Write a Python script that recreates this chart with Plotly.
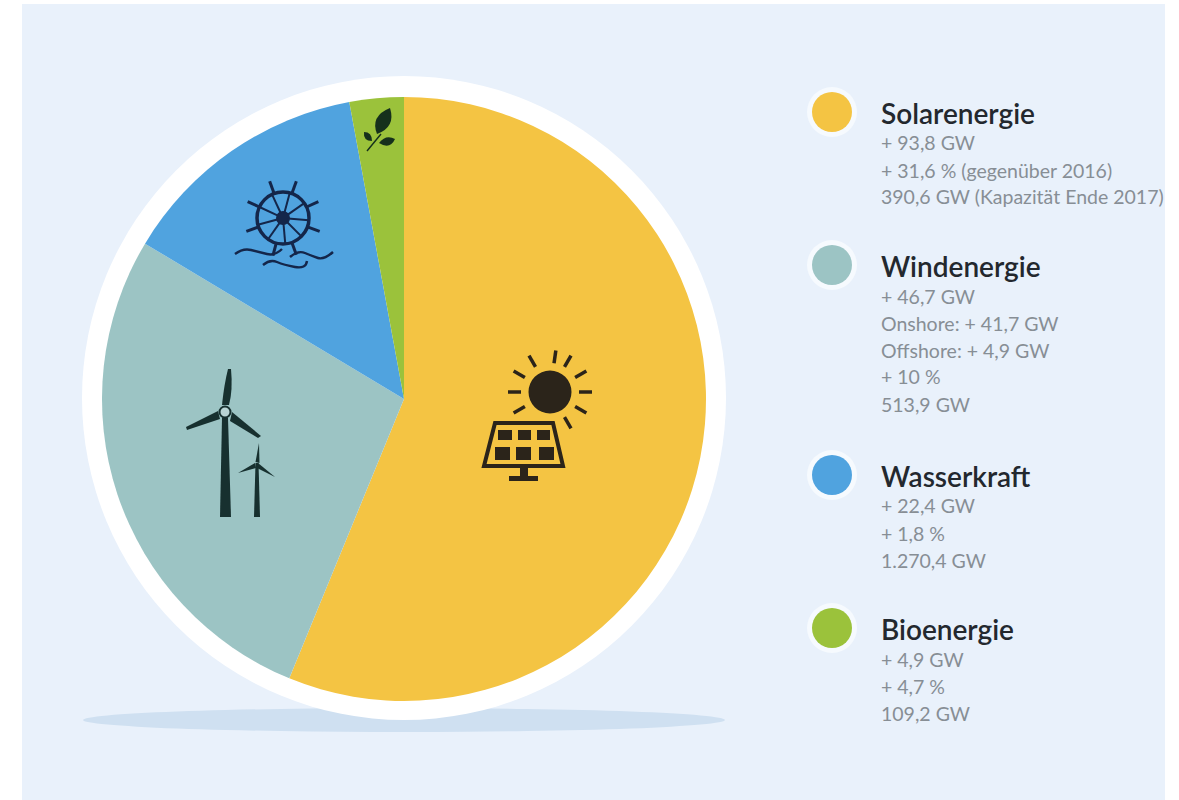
import math
import plotly.graph_objects as go

W, H = 1179, 800

# ---- data ----
categories = ["Solarenergie", "Windenergie", "Wasserkraft", "Bioenergie"]
# They sit close to, but not exactly on, the shares of the printed GW figures below.
slice_share_pct = [56.2, 27.4, 13.5, 2.9]
colors = ["#F4C443", "#9CC4C4", "#50A3DF", "#9BC23B"]
solar_lines = ["+ 93,8 GW", "+ 31,6 % (gegenüber 2016)", "390,6 GW (Kapazität Ende 2017)"]
wind_lines = ["+ 46,7 GW", "Onshore: + 41,7 GW", "Offshore: + 4,9 GW", "+ 10 %", "513,9 GW"]
water_lines = ["+ 22,4 GW", "+ 1,8 %", "1.270,4 GW"]
bio_lines = ["+ 4,9 GW", "+ 4,7 %", "109,2 GW"]
detail_lines = [solar_lines, wind_lines, water_lines, bio_lines]

# ---- layout constants (pixels) ----
PANEL = "#E9F1FB"
DARK = "#2B241A"
NAVY = "#14264A"
LEAF = "#16301C"
TURB = "#17302F"
TITLE_Y = [113, 266, 476, 629]
LEG_Y = [112, 265, 475, 628]
LINE_STEP = 27
FIRST_OFFSET = 30


def X(v):
    return v / W


def Y(v):
    return 1 - v / H


shapes = []


def rect(x0, y0, x1, y1, fill, layer="above"):
    shapes.append(dict(type="rect", xref="paper", yref="paper", x0=X(x0), x1=X(x1), y0=Y(y0), y1=Y(y1),
                       fillcolor=fill, line=dict(width=0), layer=layer))


def circle(cx, cy, rx, fill, ry=None, line=None, lw=0, layer="above"):
    ry = rx if ry is None else ry
    shapes.append(dict(type="circle", xref="paper", yref="paper", x0=X(cx - rx), x1=X(cx + rx),
                       y0=Y(cy + ry), y1=Y(cy - ry), fillcolor=fill,
                       line=dict(width=lw, color=line or fill), layer=layer))


def seg(x0, y0, x1, y1, color, lw):
    shapes.append(dict(type="line", xref="paper", yref="paper", x0=X(x0), x1=X(x1), y0=Y(y0), y1=Y(y1),
                       line=dict(color=color, width=lw), layer="above"))


def path(cmds, fill=None, line=None, lw=0):
    """cmds: list of (letter, x, y, x, y...) in pixel coordinates"""
    parts = []
    for c in cmds:
        if c[0] == "Z":
            parts.append("Z")
            continue
        nums = c[1:]
        pts = [f"{X(nums[i]):.5f},{Y(nums[i + 1]):.5f}" for i in range(0, len(nums), 2)]
        parts.append(c[0] + " " + " ".join(pts))
    shapes.append(dict(type="path", xref="paper", yref="paper", path=" ".join(parts),
                       fillcolor=fill or "rgba(0,0,0,0)",
                       line=dict(color=line or "rgba(0,0,0,0)", width=lw), layer="above"))


# background panel, shadow, white disc
rect(22, 4, 1165, 800, PANEL, "below")
circle(404, 720, 321, "#CFE0F1", ry=12, layer="below")
circle(404, 398, 322, "#FFFFFF", layer="below")

# legend dots
for yy, col in zip(LEG_Y, colors):
    circle(832, yy, 25, "#F6FAFE")
    circle(832, yy, 20, col)

# --- sun + solar panel icon ---
circle(550, 392, 21.5, DARK)
for deg in [8, 30, 60, 90, 120, 150, 240, 270, 300, 330]:
    a = math.radians(deg)
    seg(550 + 29 * math.sin(a), 392 - 29 * math.cos(a), 550 + 42 * math.sin(a), 392 - 42 * math.cos(a), DARK, 3.5)
path([("M", 495, 423), ("L", 553, 423), ("L", 563, 466), ("L", 484, 466), ("Z",)], line=DARK, lw=4)
for r in [(498, 430, 512, 440), (518, 430, 531, 440), (537, 430, 550, 440),
          (495, 447, 510, 460), (516, 447, 531, 460), (539, 447, 554, 460)]:
    rect(*r, DARK)
rect(520, 466, 528, 476, DARK)
rect(509, 476, 538, 481, DARK)

# --- wind turbines icon ---
path([("M", 222, 418), ("L", 228, 418), ("L", 231, 517), ("L", 220, 517), ("Z",)], fill=TURB)
path([("M", 222, 405), ("Q", 224, 385, 228, 369), ("L", 231, 369), ("Q", 233, 390, 229, 405), ("Z",)], fill=TURB)
path([("M", 186, 427), ("L", 218, 411), ("L", 220, 419), ("L", 187, 430), ("Z",)], fill=TURB)
path([("M", 232, 412), ("L", 261, 436), ("L", 258, 438), ("L", 230, 421), ("Z",)], fill=TURB)
circle(225, 412, 5.5, "#B8D4D4", line=TURB, lw=2)
path([("M", 255.5, 463), ("L", 258.5, 463), ("L", 260, 517), ("L", 254, 517), ("Z",)], fill=TURB)
path([("M", 255.5, 462), ("L", 259, 443), ("L", 259.5, 463), ("Z",)], fill=TURB)
path([("M", 238, 473), ("L", 255, 463), ("L", 256, 468), ("Z",)], fill=TURB)
path([("M", 258, 463), ("L", 275, 477), ("L", 257, 468), ("Z",)], fill=TURB)

# --- water wheel icon ---
circle(283, 218, 26, "rgba(0,0,0,0)", line=NAVY, lw=3.5)
circle(283, 218, 7, NAVY)
for deg in [15, 55, 95, 135, 175, 215, 255, 295, 335]:
    a = math.radians(deg)
    seg(283 + 5 * math.sin(a), 218 - 5 * math.cos(a), 283 + 26 * math.sin(a), 218 - 26 * math.cos(a), NAVY, 2)
for deg in [20, 65, 110, 160, 195, 250, 295, 340]:
    a = math.radians(deg)
    seg(283 + 26 * math.sin(a), 218 - 26 * math.cos(a), 283 + 39 * math.sin(a), 218 - 39 * math.cos(a), NAVY, 3)
path([("M", 235, 254), ("Q", 243, 248, 251, 250), ("T", 267, 254), ("T", 282, 249)], line=NAVY, lw=2.4)
path([("M", 290, 257), ("Q", 298, 250, 305, 253), ("T", 318, 258), ("T", 333, 252)], line=NAVY, lw=2.4)
path([("M", 263, 265), ("Q", 270, 259, 277, 262), ("T", 295, 267), ("T", 307, 261)], line=NAVY, lw=2.4)

# --- leaf icon ---
path([("M", 377, 134), ("Q", 370, 116, 390, 108), ("Q", 396, 127, 377, 134), ("Z",)], fill=LEAF)
path([("M", 364, 132), ("Q", 372, 132, 372, 141), ("Q", 363, 141, 364, 132), ("Z",)], fill=LEAF)
path([("M", 379, 143), ("Q", 386, 134, 395, 139), ("Q", 390, 150, 379, 143), ("Z",)], fill=LEAF)
seg(367, 151, 381, 134, LEAF, 1.4)

# --- legend texts ---
annotations = []
for name, lines, ty in zip(categories, detail_lines, TITLE_Y):
    annotations.append(dict(text=name, x=X(879), y=Y(ty), xref="paper", yref="paper", xanchor="left",
                            yanchor="middle", showarrow=False, align="left",
                            font=dict(family="Lato", size=28, color="#23282E", weight=600)))
    for i, line in enumerate(lines):
        annotations.append(dict(text=line, x=X(879), y=Y(ty + FIRST_OFFSET + i * LINE_STEP), xref="paper",
                                yref="paper", xanchor="left", yanchor="middle", showarrow=False, align="left",
                                font=dict(family="Lato", size=19.5, color="#878E95")))

fig = go.Figure(go.Pie(
    labels=categories,
    values=slice_share_pct,
    marker=dict(colors=colors, line=dict(width=0)),
    sort=False,
    direction="clockwise",
    rotation=0,
    textinfo="none",
    hovertemplate="%{label}: %{value} %<extra></extra>",
    domain=dict(x=[X(102), X(706)], y=[Y(701), Y(97)]),
    showlegend=False,
))
fig.update_layout(
    width=W, height=H,
    margin=dict(l=0, r=0, t=0, b=0),
    paper_bgcolor="#FFFFFF",
    shapes=shapes,
    annotations=annotations,
)
fig.write_html("out.html", config=dict(displayModeBar=False),
               post_script="document.body.style.margin='0';document.body.style.overflow='hidden';")
